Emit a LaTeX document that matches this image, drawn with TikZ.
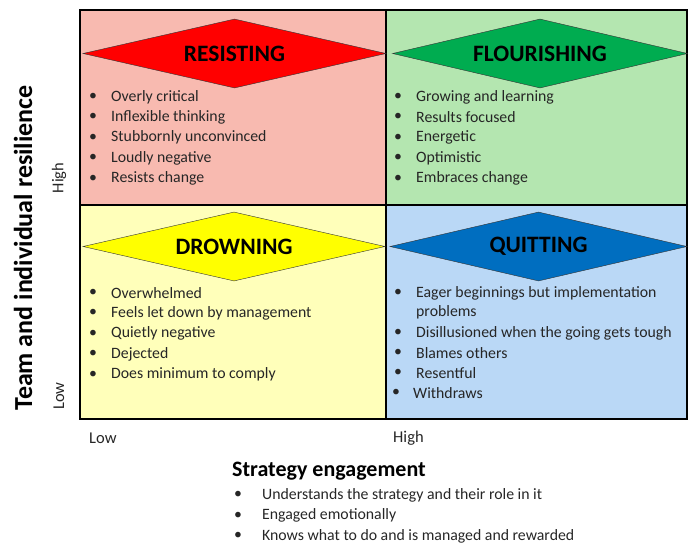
\documentclass[tikz,border=0pt]{standalone}
\usepackage{fontspec}
\setmainfont{Carlito}
\usetikzlibrary{shapes.geometric}
\definecolor{resistbg}{RGB}{248,186,176}
\definecolor{flourbg}{RGB}{180,230,176}
\definecolor{drownbg}{RGB}{255,255,186}
\definecolor{quitbg}{RGB}{186,216,246}
\definecolor{resistfill}{RGB}{255,0,0}
\definecolor{flourfill}{RGB}{0,172,80}
\definecolor{drownfill}{RGB}{255,255,0}
\definecolor{quitfill}{RGB}{0,110,192}
\begin{document}
\begin{tikzpicture}[x=1pt, y=-1pt,
    item/.style={anchor=west, inner sep=0pt, text=black!85, font=\fontsize{15.8}{18}\selectfont},
    state/.style={diamond, draw=black!80, thin, inner sep=0pt, aspect=4.4,
      minimum height=69pt, font=\bfseries\fontsize{23.5}{26}\selectfont},
    axis/.style={inner sep=0pt, text=black!85, font=\fontsize{16.5}{18}\selectfont}]
    \useasboundingbox (0,0) rectangle (688,544);

    % 1. Quadrant backgrounds
    \fill[resistbg] (80,10) rectangle (386,205);
    \fill[flourbg] (386,10) rectangle (687,205);
    \fill[drownbg] (80,205) rectangle (386,419);
    \fill[quitbg] (386,205) rectangle (687,419);

    % 2. Grid lines
    \draw[line width=2pt] (80,10) rectangle (687,419);
    \draw[line width=2pt] (386,10) -- (386,419);
    \draw[line width=2pt] (80,205) -- (687,205);

    % 3. The four state diamonds
    \node[state, fill=resistfill, minimum width=303pt] (resisting) at (234.5,53.5) {RESISTING};
    \node[state, fill=flourfill, minimum width=295pt] (flourishing) at (540,53.5) {FLOURISHING};
    \node[state, fill=drownfill, minimum width=302pt] (drowning) at (234,246.5) {DROWNING};
    \node[state, fill=quitfill, minimum width=297pt] (quitting) at (538.5,246.5) {QUITTING};

    % 4. Bullet lists
    % Resisting
    \foreach \t [count=\i] in {Overly critical, Inflexible thinking, Stubbornly unconvinced, Loudly negative, Resists change} {
        \node[item] (rb\i) at (89,76.5+20.4*\i) {•};
        \node[item] (rt\i) at (111,76.5+20.4*\i) {\t};
    }
    % Flourishing
    \foreach \t [count=\i] in {Growing and learning, Results focused, Energetic, Optimistic, Embraces change} {
        \node[item] (fb\i) at (394,76.5+20.4*\i) {•};
        \node[item] (ft\i) at (416,76.5+20.4*\i) {\t};
    }
    % Drowning
    \foreach \t [count=\i] in {Overwhelmed, Feels let down by management, Quietly negative, Dejected, Does minimum to comply} {
        \node[item] (db\i) at (89,272.5+20.4*\i) {•};
        \node[item] (dt\i) at (111,272.5+20.4*\i) {\t};
    }
    % Quitting
    \foreach \y/\bx/\tx/\t [count=\i] in {293/394/416/Eager beginnings but implementation,
        333/394/416/Disillusioned when the going gets tough, 353/394/416/Blames others,
        373/394/416/Resentful, 393/392/413/Withdraws} {
        \node[item] (qb\i) at (\bx,\y) {•};
        \node[item] (qt\i) at (\tx,\y) {\t};
    }
    \node[item] (qt1b) at (416,312.5) {problems};

    % 5. Axis labels
    \node[inner sep=0pt, rotate=90, font=\bfseries\fontsize{26}{28}\selectfont] (yaxis) at (23,248) {Team and individual resilience};
    \node[axis, rotate=90] (yhigh) at (59,178) {High};
    \node[axis, rotate=90] (ylow) at (59,396) {Low};
    \node[axis, anchor=west] (xlow) at (89,438) {Low};
    \node[axis, anchor=west] (xhigh) at (393,438) {High};

    % 6. Strategy engagement list
    \node[inner sep=0pt, anchor=west, font=\bfseries\fontsize{22}{24}\selectfont] (xaxis) at (232,471) {Strategy engagement};
    \foreach \t [count=\i] in {Understands the strategy and their role in it, Engaged emotionally, Knows what to do and is managed and rewarded} {
        \node[item] (sb\i) at (234,474.5+20.5*\i) {•};
        \node[item] (st\i) at (262,474.5+20.5*\i) {\t};
    }
\end{tikzpicture}
\end{document}
